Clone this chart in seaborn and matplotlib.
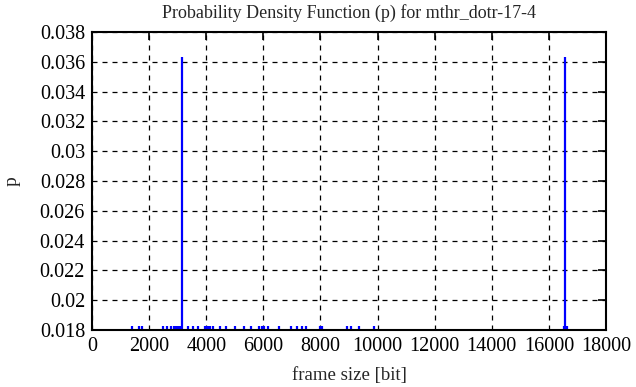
import matplotlib
matplotlib.use("Agg")
import matplotlib.pyplot as plt
import seaborn as sns
import numpy as np
import pandas as pd

# Data
frame_size = [1410, 1630, 1760, 2500, 2615, 2765, 2880, 2920, 2960, 3000, 3050, 3090, 3115,
              3150, 3370, 3540, 3725, 3960, 3985, 4020, 4050, 4090, 4120, 4245, 4470, 4700,
              5000, 5335, 5580, 5860, 5970, 6030, 6180, 6550, 6970, 7190, 7360, 7510, 8000,
              8055, 8935, 9075, 9365, 9860, 16520, 16550, 16570, 16600, 16640]
prob = [0.01825] * 13 + [0.03633] + [0.01825] * 30 + [0.01825, 0.01825, 0.03633, 0.01825, 0.01825]

title = "Probability Density Function (p) for mthr_dotr-17-4"
xlabel = "frame size [bit]"
ylabel = "p"
xticks = list(range(0, 18001, 2000))
yticks = [0.018, 0.02, 0.022, 0.024, 0.026, 0.028, 0.03, 0.032, 0.034, 0.036, 0.038]
ytick_labels = ["0.018", "0.02", "0.022", "0.024", "0.026", "0.028", "0.03", "0.032",
                "0.034", "0.036", "0.038"]

df = pd.DataFrame({"frame_size": frame_size, "p": prob})

sns.set_style("white")
plt.rcParams["font.family"] = ["Liberation Serif", "DejaVu Serif"]

fig = plt.figure(figsize=(6.36, 3.87), dpi=100)
ax = fig.add_axes([0.1447, 0.1473, 0.8081, 0.77])

ax.vlines(df["frame_size"], 0, df["p"], color="#0000ff", linewidth=1.6)

ax.set_xlim(0, 18000)
ax.set_ylim(0.018, 0.038)
ax.set_xticks(xticks)
ax.set_xticklabels([str(t) for t in xticks])
ax.set_yticks(yticks)
ax.set_yticklabels(ytick_labels)

ax.grid(True, color="black", linestyle=(0, (4, 4)), linewidth=0.9)
ax.tick_params(direction="in", length=6, width=1.2, colors="black",
               top=True, right=True, labelsize=14.5, pad=5)
for s in ax.spines.values():
    s.set_color("black")
    s.set_linewidth(1.5)

ax.set_title(title, fontsize=13, pad=10)
ax.set_xlabel(xlabel, fontsize=13.5, labelpad=8)
ax.set_ylabel(ylabel, fontsize=14, labelpad=14)

fig.savefig("out.png", dpi=100)
